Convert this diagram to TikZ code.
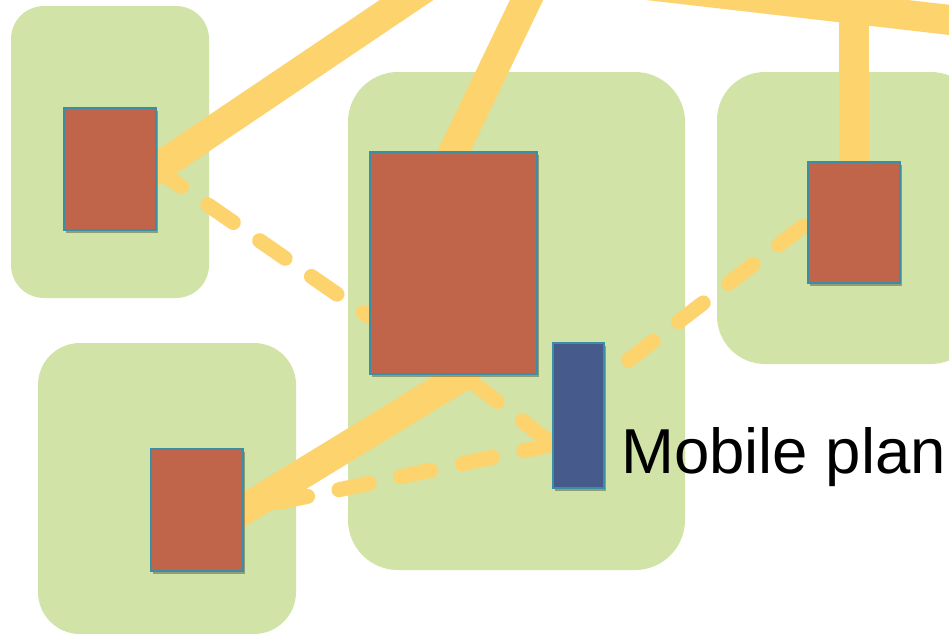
\documentclass[tikz,border=0pt]{standalone}
\usepackage{fontspec}
\setmainfont{Liberation Sans}
\usetikzlibrary{shadows,calc}
\definecolor{grp}{HTML}{D1E3A7}
\definecolor{linkc}{HTML}{FDD36E}
\definecolor{srv}{HTML}{C0654A}
\definecolor{rim}{HTML}{3A8EA8}
\definecolor{mob}{HTML}{465A8B}
\pgfdeclarelayer{zones}
\pgfdeclarelayer{links}
\pgfsetlayers{zones,links,main}
\tikzset{
  zone/.style={fill=grp, draw=none, rounded corners=#1, inner sep=0pt, outer sep=0pt},
  srvbox/.style={draw=rim, line width=2pt, fill=srv, inner sep=0pt, outer sep=0pt,
    drop shadow={shadow xshift=1.5pt, shadow yshift=-3pt, opacity=0.3, fill=black}},
  mobbox/.style={srvbox, fill=mob},
  solidlink/.style={draw=linkc, line width=30pt, line cap=round},
  dashlink/.style={draw=linkc, line width=15pt, line cap=round, dash pattern=on 31pt off 32pt}
}
\begin{document}
\begin{tikzpicture}[x=1pt,y=-1pt]
\useasboundingbox (0,0) rectangle (949,633);
% servers
\node[srvbox, minimum width=92pt, minimum height=122pt] (A) at (110,169) {};
\node[srvbox, minimum width=167pt, minimum height=222pt] (B) at (453.5,263) {};
\node[srvbox, minimum width=92pt, minimum height=122pt] (C) at (197,510) {};
\node[srvbox, minimum width=92pt, minimum height=121pt] (D) at (854,222.5) {};
\node[mobbox, minimum width=51pt, minimum height=145pt] (M) at (578.5,415.5) {};
\node[anchor=base west, inner sep=0pt, font=\fontsize{63.5}{70}\selectfont] (lbl) at (621,473) {Mobile plan};
% off-picture ends
\coordinate (t1) at (451,-30);
\coordinate (t2) at (541,-30);
\coordinate (t3) at (560,-25);
\coordinate (t4) at (985,24);
\coordinate (t5) at (854,10);
\begin{pgfonlayer}{zones}
  \fill[white] (0,0) rectangle (949,633);
  \node[zone=33pt, minimum width=198pt, minimum height=292pt] (g1) at (110,152) {};
  \node[zone=42pt, minimum width=258pt, minimum height=291pt] (g2) at (167,488.5) {};
  \node[zone=50pt, minimum width=337pt, minimum height=498pt] (g3) at (516.5,321) {};
  \node[zone=48pt, minimum width=262pt, minimum height=292pt] (g4) at (848,218) {};
\end{pgfonlayer}
\begin{pgfonlayer}{links}
  \draw[solidlink, shorten >=-20pt] (t1) -- (A.east);
  \draw[solidlink, shorten >=-20pt] (t2) -- (B.north);
  \draw[solidlink] (t3) -- (t4);
  \draw[solidlink, shorten >=-10pt] (t5) -- (D.north);
  \draw[solidlink, shorten >=-20pt] ($(B.south)+(12,0)$) -- (C.east);
  \draw[dashlink] (A.east) -- ($(B.west)+(0,54)$);
  \draw[dashlink, dash phase=49pt] ($(B.south)+(8,0)$) -- ($(M.west)+(0,29)$);
  \draw[dashlink, dash phase=28pt] (C.east) -- ($(M.west)+(0,29)$);
  \draw[dashlink, dash phase=32pt] ($(M.north east)+(0,36)$) -- (D.west);
\end{pgfonlayer}
\end{tikzpicture}
\end{document}
